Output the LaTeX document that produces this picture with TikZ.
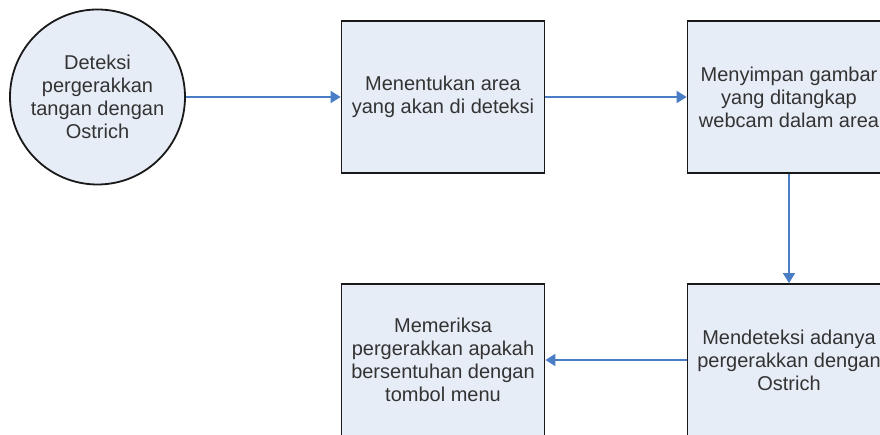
\documentclass[tikz,border=0pt]{standalone}
\usepackage{fontspec}
\setmainfont{Liberation Sans}
\usetikzlibrary{arrows.meta}
\definecolor{isibiru}{HTML}{E7EDF7}
\definecolor{garisbiru}{HTML}{4A7EC4}

\begin{document}
\begin{tikzpicture}
  [x=1pt,y=-1pt,
   every node/.style={font=\fontsize{20}{23}\selectfont,text=black!80,align=center,
     fill=isibiru,draw=black!90,line width=1.8pt,inner sep=0pt},
   awal/.style={circle,minimum size=175pt},
   proses/.style={rectangle,minimum width=203pt,minimum height=152pt},
   alur/.style={draw=garisbiru,line width=1.7pt,-{Triangle[length=10pt,width=12pt]}}]
  \useasboundingbox (0,0) rectangle (880,435);
  \clip (0,0) rectangle (880,435);
  \node[awal] (n1) at (97.5,97) {Deteksi\\pergerakkan\\tangan dengan\\Ostrich};
  \node[proses] (n2) at (443,97) {Menentukan area\\yang akan di deteksi};
  \node[proses] (n3) at (789,97) {Menyimpan gambar\\yang ditangkap\\webcam dalam area};
  \node[proses] (n4) at (789,360) {Mendeteksi adanya\\pergerakkan dengan\\Ostrich};
  \node[proses] (n5) at (443,360) {Memeriksa\\pergerakkan apakah\\bersentuhan dengan\\tombol menu};

  \foreach \from/\to in {n1/n2,n2/n3,n3/n4,n4/n5}
    \draw[alur] (\from) -- (\to);

\end{tikzpicture}
\end{document}
